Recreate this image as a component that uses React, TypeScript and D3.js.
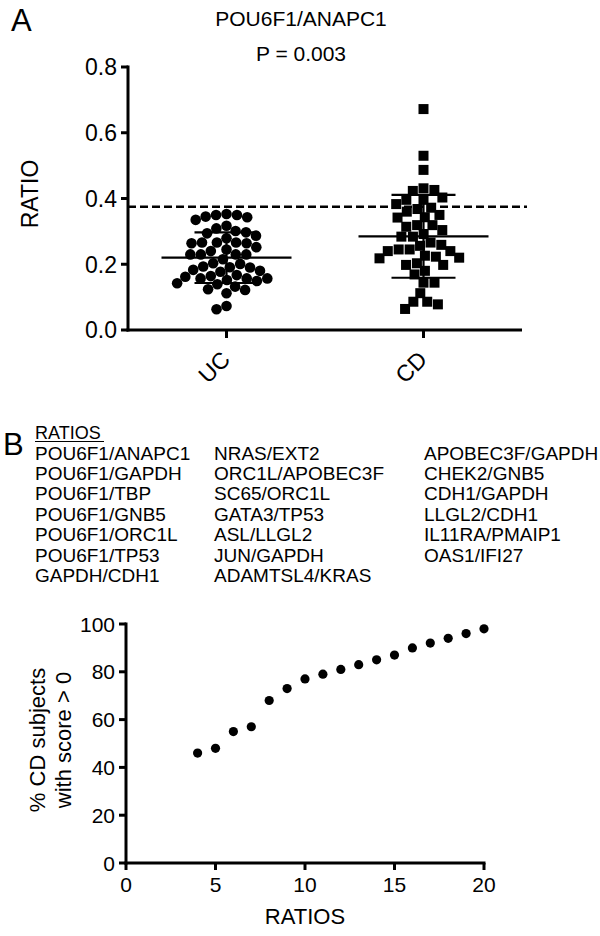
import React from 'react';
import * as d3 from 'd3';

const FONT = '"Liberation Sans", Arial, Helvetica, sans-serif';

// panel A
const groups = ['UC', 'CD'];
const ucRatios = [
  0.35, 0.345, 0.335, 0.343, 0.35, 0.353, 0.301, 0.294, 0.317, 0.309, 0.279, 0.287, 0.297,
  0.264, 0.252, 0.266, 0.266, 0.266, 0.264, 0.24, 0.23, 0.23, 0.23, 0.23, 0.245, 0.215,
  0.203, 0.193, 0.191, 0.201, 0.19, 0.18, 0.177, 0.183, 0.157, 0.167, 0.152, 0.157, 0.162,
  0.164, 0.157, 0.142, 0.132, 0.139, 0.149, 0.122, 0.124, 0.112, 0.063, 0.073,
];
const cdRatios = [
  0.672, 0.53, 0.487, 0.431, 0.423, 0.426, 0.396, 0.383, 0.396, 0.403, 0.368, 0.36, 0.372,
  0.35, 0.342, 0.343, 0.319, 0.314, 0.319, 0.304, 0.292, 0.284, 0.284, 0.259, 0.266, 0.245,
  0.24, 0.245, 0.24, 0.256, 0.226, 0.22, 0.218, 0.223, 0.203, 0.198, 0.198, 0.18, 0.169,
  0.144, 0.144, 0.112, 0.086, 0.064, 0.078, 0.086,
];
const groupMean = [0.22, 0.285];
const groupSD = [0.077, 0.126];
const cutoff = 0.375;
const ratioTicks = [0, 0.2, 0.4, 0.6, 0.8];

// panel B
const ratioColumns = [
  ['POU6F1/ANAPC1', 'POU6F1/GAPDH', 'POU6F1/TBP', 'POU6F1/GNB5', 'POU6F1/ORC1L', 'POU6F1/TP53', 'GAPDH/CDH1'],
  ['NRAS/EXT2', 'ORC1L/APOBEC3F', 'SC65/ORC1L', 'GATA3/TP53', 'ASL/LLGL2', 'JUN/GAPDH', 'ADAMTSL4/KRAS'],
  ['APOBEC3F/GAPDH', 'CHEK2/GNB5', 'CDH1/GAPDH', 'LLGL2/CDH1', 'IL11RA/PMAIP1', 'OAS1/IFI27'],
];
const numRatios = [4, 5, 6, 7, 8, 9, 10, 11, 12, 13, 14, 15, 16, 17, 18, 19, 20];
const pctCD = [46, 48, 55, 57, 68, 73, 77, 79, 81, 83, 85, 87, 90, 92, 94, 96, 98];
const xTicksB = [0, 5, 10, 15, 20];
const yTicksB = [0, 20, 40, 60, 80, 100];

// simple beeswarm: keep y, push x outward until no overlap
function swarm(values: number[], y: (v: number) => number, cx: number, d: number) {
  const pts = values.map((v) => ({ v, y: y(v) })).sort((a, b) => a.y - b.y);
  const placed: { v: number; y: number; dx: number }[] = [];
  pts.forEach((p, i) => {
    const cands = [0];
    placed.forEach((q) => {
      const dy = p.y - q.y;
      if (Math.abs(dy) < d) {
        const dx = Math.sqrt(d * d - dy * dy);
        cands.push(q.dx + dx, q.dx - dx);
      }
    });
    const side = i % 2 ? 1 : -1;
    cands.sort((a, b) => Math.abs(a) - Math.abs(b) || side * (a - b));
    const ok = cands.find((c) =>
      placed.every((q) => (c - q.dx) ** 2 + (p.y - q.y) ** 2 >= d * d - 0.01)
    );
    placed.push({ ...p, dx: ok ?? 0 });
  });
  return placed.map((p) => ({ v: p.v, y: p.y, x: cx + p.dx }));
}

const App: React.FC = () => {
  // ---- panel A scales
  const yA = d3.scaleLinear().domain([0, 0.8]).range([330, 67]);
  const xA = d3.scalePoint<string>().domain(groups).range([128, 522]).padding(0.5);
  const ucPts = swarm(ucRatios, yA, xA('UC')!, 10.5);
  const cdPts = swarm(cdRatios, yA, xA('CD')!, 11);

  // ---- panel B scales
  const xB = d3.scaleLinear().domain([0, 20]).range([126, 484]);
  const yB = d3.scaleLinear().domain([0, 100]).range([863, 624]);

  return (
    <svg
      width={600}
      height={936}
      style={{ position: 'absolute', left: 0, top: 0, background: '#fff' }}
      fontFamily={FONT}
    >
      <rect width={600} height={936} fill="#fff" />

      {/* ---------- A ---------- */}
      <text x={11} y={31} fontSize={31}>A</text>
      <text x={301} y={26} fontSize={21} textAnchor="middle">POU6F1/ANAPC1</text>
      <text x={301} y={61} fontSize={21} textAnchor="middle">P = 0.003</text>

      <text transform="translate(38,194) rotate(-90)" fontSize={23} textAnchor="middle">RATIO</text>

      {ratioTicks.map((t) => (
        <g key={t}>
          <line x1={121} x2={128} y1={yA(t)} y2={yA(t)} stroke="#000" strokeWidth={3} />
          <text x={117} y={yA(t)} dy="0.36em" fontSize={23} textAnchor="end">{t.toFixed(1)}</text>
        </g>
      ))}

      {/* cutoff */}
      <line x1={128} x2={527} y1={yA(cutoff)} y2={yA(cutoff)} stroke="#000" strokeWidth={2.5} strokeDasharray="8,4" />

      {/* points */}
      {ucPts.map((p, i) => (
        <circle key={'u' + i} cx={p.x} cy={p.y} r={5.3} fill="#000" />
      ))}
      {cdPts.map((p, i) => (
        <rect key={'c' + i} x={p.x - 5} y={p.y - 5} width={10} height={10} fill="#000" />
      ))}

      {/* mean +/- SD */}
      {groups.map((g, i) => {
        const cx = xA(g)!;
        const top = yA(groupMean[i] + groupSD[i]);
        const bot = yA(groupMean[i] - groupSD[i]);
        return (
          <g key={g} stroke="#000" strokeWidth={2.2}>
            <line x1={cx - 65} x2={cx + 65} y1={yA(groupMean[i])} y2={yA(groupMean[i])} />
            <line x1={cx} x2={cx} y1={top} y2={bot} />
            <line x1={cx - 32} x2={cx + 32} y1={top} y2={top} />
            <line x1={cx - 32} x2={cx + 32} y1={bot} y2={bot} />
          </g>
        );
      })}

      {/* axes */}
      <line x1={128} x2={128} y1={yA(0.8) - 1.5} y2={yA(0) + 1.5} stroke="#000" strokeWidth={3} />
      <line x1={126.5} x2={522} y1={yA(0)} y2={yA(0)} stroke="#000" strokeWidth={3} />
      {groups.map((g) => (
        <g key={g}>
          <line x1={xA(g)} x2={xA(g)} y1={330} y2={338} stroke="#000" strokeWidth={3} />
          <text transform={`translate(${xA(g)! + 5},361) rotate(-45)`} fontSize={23} textAnchor="end">
            {g}
          </text>
        </g>
      ))}

      {/* ---------- B ---------- */}
      <text x={3} y={455} fontSize={31}>B</text>
      <text x={35} y={439} fontSize={18}>RATIOS</text>
      <line x1={35} x2={104} y1={441.5} y2={441.5} stroke="#000" strokeWidth={1.2} />
      {ratioColumns.map((col, ci) =>
        col.map((name, ri) => (
          <text key={name} x={[35, 214, 424][ci]} y={459.5 + ri * 20.4} fontSize={19}>
            {name}
          </text>
        ))
      )}

      <text transform="translate(45,740) rotate(-90)" fontSize={22} textAnchor="middle">% CD subjects</text>
      <text transform="translate(71,740) rotate(-90)" fontSize={22} textAnchor="middle">with score &gt; 0</text>

      {yTicksB.map((t) => (
        <g key={t}>
          <line x1={119} x2={126} y1={yB(t)} y2={yB(t)} stroke="#000" strokeWidth={3} />
          <text x={115} y={yB(t)} dy="0.36em" fontSize={21} textAnchor="end">{t}</text>
        </g>
      ))}
      {xTicksB.map((t) => (
        <g key={t}>
          <line x1={xB(t)} x2={xB(t)} y1={863} y2={870} stroke="#000" strokeWidth={3} />
          <text x={xB(t)} y={892} fontSize={21} textAnchor="middle">{t}</text>
        </g>
      ))}
      <line x1={126} x2={126} y1={yB(100) - 1.5} y2={yB(0) + 1.5} stroke="#000" strokeWidth={3} />
      <line x1={124.5} x2={485.5} y1={yB(0)} y2={yB(0)} stroke="#000" strokeWidth={3} />
      <text x={xB(10)} y={924} fontSize={22} textAnchor="middle">RATIOS</text>

      {numRatios.map((n, i) => (
        <circle key={n} cx={xB(n)} cy={yB(pctCD[i])} r={4.6} fill="#000" />
      ))}
    </svg>
  );
};

export default App;
